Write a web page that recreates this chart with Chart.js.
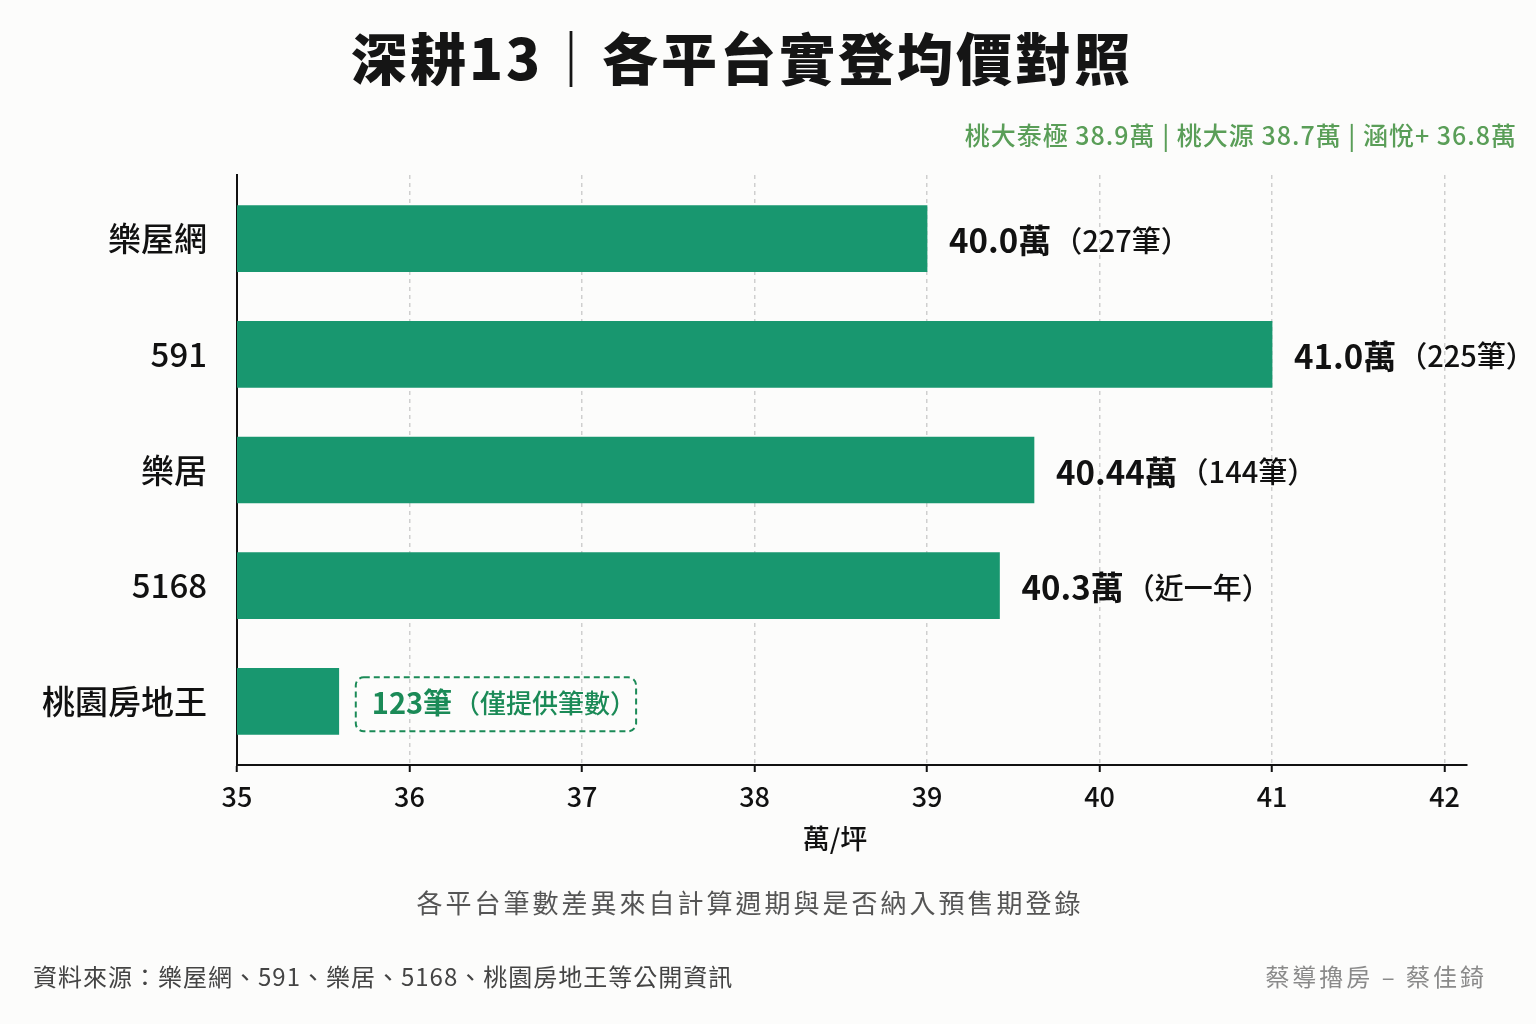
<!DOCTYPE html>
<html lang="zh-Hant">
<head>
<meta charset="utf-8">
<script src="https://cdn.jsdelivr.net/npm/chart.js@4.4.1/dist/chart.umd.min.js"></script>
<style>
  html, body { margin:0; padding:0; background:#fcfcfb; }
  body { width:1536px; height:1024px; position:relative; overflow:hidden; font-family:"Noto Sans CJK TC","Noto Sans",sans-serif; }
  #wrap { position:absolute; left:0; top:0; width:1536px; height:1024px; }
  .t { position:absolute; white-space:nowrap; }
  #title { left:0; width:1484px; top:26px; text-align:center; font-size:56px; line-height:60px; font-weight:900; color:#151515; letter-spacing:3px; }
  #sub { right:19px; top:119px; font-size:25px; line-height:30px; color:#5a9e58; font-weight:500; letter-spacing:1px; }
  #xtitle { left:0; width:1670px; top:821px; text-align:center; font-size:27px; line-height:34px; color:#111; font-weight:500; }
  #note { left:0; width:1500px; top:884px; text-align:center; font-size:26px; line-height:36px; color:#555; letter-spacing:3px; }
  #src { left:33px; top:961px; font-size:24px; line-height:30px; color:#444; letter-spacing:1px; }
  #sign { right:49px; top:961px; font-size:24px; line-height:30px; color:#8a8a8a; letter-spacing:3px; }
</style>
</head>
<body>
<div id="wrap"><canvas id="c"></canvas></div>
<div class="t" id="title">深耕13｜各平台實登均價對照</div>
<div class="t" id="sub">桃大泰極 38.9萬 | 桃大源 38.7萬 | 涵悅+ 36.8萬</div>
<div class="t" id="xtitle">萬/坪</div>
<div class="t" id="note">各平台筆數差異來自計算週期與是否納入預售期登錄</div>
<div class="t" id="src">資料來源：樂屋網、591、樂居、5168、桃園房地王等公開資訊</div>
<div class="t" id="sign">蔡導擼房 – 蔡佳錡</div>
<script>
const categories = ['樂屋網', '591', '樂居', '5168', '桃園房地王'];
const barValues = [39.0, 41.0, 39.62, 39.42, 35.59];
const priceLabels = ['40.0萬', '41.0萬', '40.44萬', '40.3萬', '123筆'];
const noteLabels = ['（227筆）', '（225筆）', '（144筆）', '（近一年）', '（僅提供筆數）'];
const xTicks = [35, 36, 37, 38, 39, 40, 41, 42];

const FONT = '"Noto Sans CJK TC", "Noto Sans", sans-serif';
const BAR = '#18976f';
const BOXGREEN = '#1b8a57';

const valueLabels = {
  id: 'valueLabels',
  afterDatasetsDraw(chart) {
    const ctx = chart.ctx;
    const meta = chart.getDatasetMeta(0);
    meta.data.forEach((bar, i) => {
      const isBox = i === categories.length - 1;
      ctx.save();
      ctx.textBaseline = 'middle';
      ctx.textAlign = 'left';
      const boldFont = (isBox ? '700 29px ' : '700 33px ') + FONT;
      const regFont = (isBox ? '500 26px ' : '500 29px ') + FONT;
      ctx.font = boldFont;
      const w1 = ctx.measureText(priceLabels[i]).width;
      ctx.font = regFont;
      const w2 = ctx.measureText(noteLabels[i]).width;
      let x = bar.x + (isBox ? 33 : 22);
      const y = bar.y + 2;
      if (isBox) {
        const bx = bar.x + 17, by = bar.y - 24, bw = 16 + w1 + 2 + w2, bh = 54;
        ctx.setLineDash([6, 4]);
        ctx.lineWidth = 2;
        ctx.strokeStyle = BOXGREEN;
        ctx.beginPath();
        ctx.roundRect(bx, by, bw, bh, 8);
        ctx.stroke();
        ctx.setLineDash([]);
        ctx.fillStyle = BOXGREEN;
      } else {
        ctx.fillStyle = '#111';
      }
      ctx.font = boldFont;
      ctx.fillText(priceLabels[i], x, y);
      ctx.font = regFont;
      ctx.fillText(noteLabels[i], x + w1 + 2, y);
      ctx.restore();
    });
  }
};

new Chart(document.getElementById('c'), {
  type: 'bar',
  data: {
    datasets: [{
      data: barValues.map((v, i) => ({ x: v, y: i })),
      backgroundColor: BAR,
      borderWidth: 0,
      barThickness: 66
    }]
  },
  options: {
    indexAxis: 'y',
    responsive: true,
    maintainAspectRatio: false,
    animation: false,
    layout: { padding: { left: 0, top: 175, right: 69, bottom: 164 } },
    plugins: { legend: { display: false }, tooltip: { enabled: false } },
    scales: {
      x: {
        type: 'linear',
        min: 35,
        max: 42.13,
        afterBuildTicks: s => { s.ticks = xTicks.map(v => ({ value: v })); },
        afterFit: s => { s.height = 95; },
        ticks: {
          color: '#111',
          font: { family: FONT, size: 27, weight: '500' },
          padding: 9
        },
        grid: {
          color: '#cfcfcf',
          lineWidth: 1.5,
          tickColor: '#111',
          tickLength: 7,
          tickWidth: 2
        },
        border: { display: true, color: '#111', width: 2, dash: [4, 4] },
        title: { display: false }
      },
      y: {
        type: 'linear',
        reverse: true,
        offset: false,
        min: -0.55,
        max: 4.55,
        afterBuildTicks: s => { s.ticks = categories.map((c, i) => ({ value: i })); },
        afterFit: s => { s.width = 237; },
        ticks: {
          color: '#111',
          font: { family: FONT, size: 33, weight: '500' },
          padding: 30,
          callback: v => categories[v]
        },
        grid: { display: false, drawTicks: false, offset: false },
        border: { display: true, color: '#111', width: 2 }
      }
    }
  },
  plugins: [valueLabels]
});
</script>
</body>
</html>
